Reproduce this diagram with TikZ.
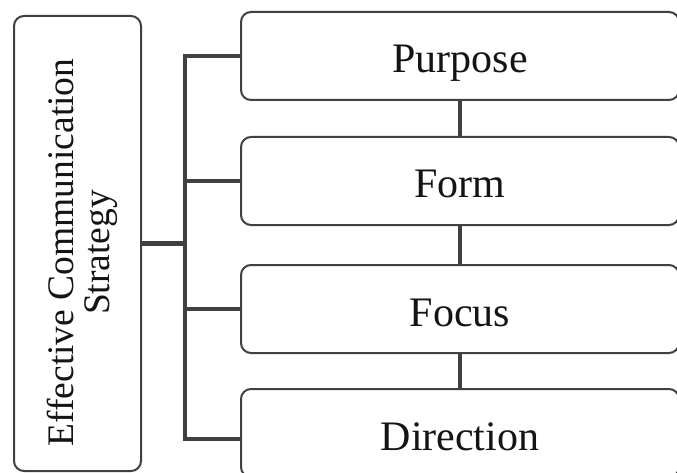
\documentclass[tikz,border=0pt]{standalone}
\usepackage{fontspec}
\setmainfont{Liberation Serif}
\usepackage{xcolor}
\usetikzlibrary{positioning}

\definecolor{linegray}{RGB}{64,64,64}
\definecolor{textblack}{RGB}{20,20,20}

\begin{document}
\begin{tikzpicture}[x=1pt,y=-1pt]
            \useasboundingbox[fill=white] (0,0) rectangle (677,473);

            \begin{scope}[every node/.style = {draw=linegray, line width=2pt, rounded corners=10pt,
                            fill=white, text=textblack, inner sep=0pt}]
                \node[rotate=90, minimum width=455pt, minimum height=127pt,
                      font=\fontsize{37.5pt}{35pt}\selectfont] (strategy) at (77.5,243.5)
                      {\raisebox{-6pt}[\height][\depth]{\begin{tabular}{@{}c@{}}
                        Effective Communication\hspace*{18pt}\\Strategy\hspace*{18pt}\end{tabular}}};
                \begin{scope}[every node/.append style = {minimum width=438pt, minimum height=88pt,
                                text height=34pt, text depth=0pt,
                                font=\fontsize{42pt}{50pt}\selectfont}]
                    \node (purpose)   at (460,56)  {Purpose};
                    \node (form)      at (460,181) {Form};
                    \node (focus)     at (460,309) {Focus};
                    \node (direction) at (460,433) {Direction};
                \end{scope}
            \end{scope}

            \coordinate (trunk) at (185,0);
            \coordinate (dirend) at ([yshift=-6pt]direction.west);

            \begin{scope}[every edge/.style={draw=linegray, line width=4.5pt}]
                \path (purpose) edge (form);
                \path (form)    edge (focus);
                \path (focus)   edge (direction);
                \path (strategy.south) edge (strategy.south -| trunk);
                \path (purpose.west)  edge (purpose.west -| trunk);
                \path (form.west)     edge (form.west -| trunk);
                \path (focus.west)    edge (focus.west -| trunk);
                \path (dirend)        edge (dirend -| trunk);
                \path (purpose.west -| trunk) edge[line cap=rect] (dirend -| trunk);
            \end{scope}
        \end{tikzpicture}
\end{document}
